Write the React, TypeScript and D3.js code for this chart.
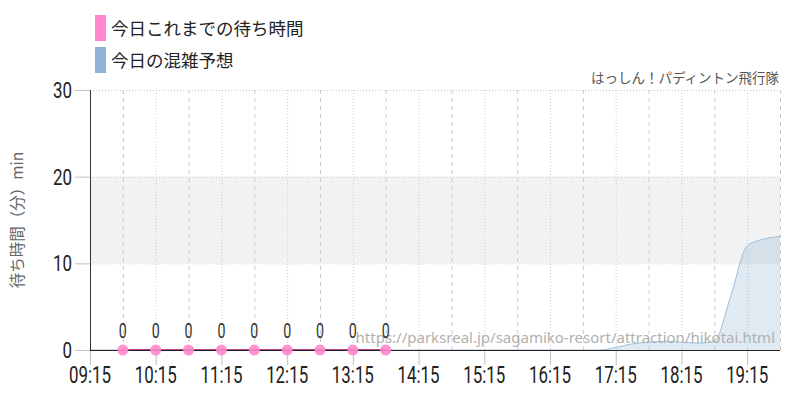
import React, { useEffect, useRef } from 'react';
import * as d3 from 'd3';

// observed waits (today so far)
const actualTimes = ['09:45', '10:15', '10:45', '11:15', '11:45', '12:15', '12:45', '13:15', '13:45'];
const actualWaits = [0, 0, 0, 0, 0, 0, 0, 0, 0];

// forecast, 15 min steps from 09:15
const forecastTimes = [
  '09:15', '09:30', '09:45', '10:00', '10:15', '10:30', '10:45', '11:00', '11:15', '11:30', '11:45',
  '12:00', '12:15', '12:30', '12:45', '13:00', '13:15', '13:30', '13:45', '14:00', '14:15', '14:30',
  '14:45', '15:00', '15:15', '15:30', '15:45', '16:00', '16:15', '16:30', '16:45', '17:00', '17:15',
  '17:30', '17:45', '18:00', '18:15', '18:30', '18:45', '19:00', '19:15', '19:30', '19:45'
];
const forecastWaits = [
  0, 0, 0, 0, 0, 0, 0, 0, 0, 0, 0,
  0, 0, 0, 0, 0, 0, 0, 0, 0, 0, 0,
  0, 0, 0, 0, 0, 0, 0, 0, 0, 0, 0.3,
  0.7, 0.9, 1.0, 0.9, 0.8, 1.0, 6.2, 12.0, 12.8, 13.1
];

const xTicks = ['09:15', '10:15', '11:15', '12:15', '13:15', '14:15', '15:15', '16:15', '17:15', '18:15', '19:15'];
const yTicks = [0, 10, 20, 30];

const legendItems = [
  { label: '今日これまでの待ち時間', color: '#ff88cc' },
  { label: '今日の混雑予想', color: '#8fb3d3' }
];

const title = 'はっしん！パディントン飛行隊';
const yLabel = '待ち時間（分）min';
const sourceUrl = 'https://parksreal.jp/sagamiko-resort/attraction/hikotai.html';

const toMin = (t: string) => {
  const [h, m] = t.split(':').map(Number);
  return h * 60 + m;
};

// numbers in the reference are tall and narrow; squeeze Roboto to match
const numFont = "'Roboto', sans-serif";
const jpFont = "'Noto Sans CJK JP', sans-serif";

const App: React.FC = () => {
  const svgRef = useRef<SVGSVGElement>(null);

  useEffect(() => {
    if (!svgRef.current) return;
    const svg = d3.select(svgRef.current);
    svg.selectAll('*').remove();

    const left = 90, right = 780, top = 90, bottom = 350;

    const x = d3.scaleLinear().domain([toMin('09:15'), toMin('19:45')]).range([left, right]);
    const y = d3.scaleLinear().domain([0, 30]).range([bottom, top]);

    // band 10-20
    svg.append('rect')
      .attr('x', left).attr('width', right - left)
      .attr('y', y(20)).attr('height', y(10) - y(20))
      .attr('fill', '#f2f2f2');

    // vertical grid every 30 min
    const gridMins = d3.range(toMin('09:45'), toMin('19:45') + 1, 30);
    svg.append('g').selectAll('line')
      .data(gridMins)
      .enter().append('line')
      .attr('x1', d => x(d) + 0.5).attr('x2', d => x(d) + 0.5)
      .attr('y1', top).attr('y2', bottom)
      .attr('stroke', '#cccccc')
      .attr('stroke-dasharray', d => ((d - toMin('09:15')) % 60 === 0 ? '1,2' : '4,4'));

    // horizontal grid
    svg.append('g').selectAll('line')
      .data(yTicks.filter(v => v > 0))
      .enter().append('line')
      .attr('x1', left).attr('x2', right)
      .attr('y1', d => y(d) + 0.5).attr('y2', d => y(d) + 0.5)
      .attr('stroke', '#c8c8c8')
      .attr('stroke-dasharray', '1,2');

    // y ticks
    svg.append('g').selectAll('line')
      .data(yTicks)
      .enter().append('line')
      .attr('x1', 75).attr('x2', left)
      .attr('y1', d => y(d) + 0.5).attr('y2', d => y(d) + 0.5)
      .attr('stroke', '#c0c0c0');
    svg.append('g').selectAll('text')
      .data(yTicks)
      .enter().append('text')
      .attr('x', 72).attr('y', d => y(d) + 8)
      .attr('text-anchor', 'end')
      .attr('textLength', d => String(d).length * 9.5)
      .attr('lengthAdjust', 'spacingAndGlyphs')
      .style('font-family', numFont)
      .style('font-size', '22px')
      .style('fill', '#222')
      .text(d => d);

    // x ticks
    svg.append('g').selectAll('line')
      .data(xTicks)
      .enter().append('line')
      .attr('x1', d => x(toMin(d)) + 0.5).attr('x2', d => x(toMin(d)) + 0.5)
      .attr('y1', bottom).attr('y2', bottom + 15)
      .attr('stroke', '#c0c0c0');
    svg.append('g').selectAll('text')
      .data(xTicks)
      .enter().append('text')
      .attr('x', d => x(toMin(d)) - 21)
      .attr('y', 383)
      .attr('textLength', 42)
      .attr('lengthAdjust', 'spacingAndGlyphs')
      .style('font-family', numFont)
      .style('font-size', '24px')
      .style('fill', '#222')
      .text(d => d);

    // forecast area
    const fData = forecastTimes.map((t, i) => ({ t: toMin(t), v: forecastWaits[i] }));
    svg.append('path')
      .datum(fData)
      .attr('d', d3.area<{ t: number; v: number }>()
        .x(d => x(d.t)).y0(bottom).y1(d => y(d.v))
        .curve(d3.curveMonotoneX))
      .attr('fill', '#8fb3d3')
      .attr('fill-opacity', 0.28);
    svg.append('path')
      .datum(fData)
      .attr('d', d3.line<{ t: number; v: number }>()
        .x(d => x(d.t)).y(d => y(d.v))
        .curve(d3.curveMonotoneX))
      .attr('fill', 'none')
      .attr('stroke', '#9dbdd8')
      .attr('stroke-width', 1);

    // watermark
    svg.append('text')
      .attr('x', 775).attr('y', 343)
      .attr('text-anchor', 'end')
      .style('font-family', "'Noto Sans', sans-serif")
      .style('font-size', '15px')
      .style('fill', '#b0b0b0')
      .text(sourceUrl);

    // actual line + points
    const aData = actualTimes.map((t, i) => ({ t: toMin(t), v: actualWaits[i] }));
    svg.append('path')
      .datum(aData)
      .attr('d', d3.line<{ t: number; v: number }>().x(d => x(d.t)).y(d => y(d.v)))
      .attr('fill', 'none')
      .attr('stroke', '#c0408a')
      .attr('stroke-width', 2);

    // axes lines
    svg.append('line')
      .attr('x1', left + 0.5).attr('x2', left + 0.5)
      .attr('y1', top).attr('y2', bottom)
      .attr('stroke', '#333');
    svg.append('line')
      .attr('x1', left).attr('x2', right)
      .attr('y1', bottom + 0.5).attr('y2', bottom + 0.5)
      .attr('stroke', '#222');

    svg.append('g').selectAll('circle')
      .data(aData)
      .enter().append('circle')
      .attr('cx', d => x(d.t)).attr('cy', d => y(d.v))
      .attr('r', 5.5)
      .attr('fill', '#ff88cc')
      .attr('fill-opacity', 0.9);

    svg.append('g').selectAll('text')
      .data(aData)
      .enter().append('text')
      .attr('x', d => x(d.t) - 4).attr('y', d => y(d.v) - 12)
      .attr('textLength', 8)
      .attr('lengthAdjust', 'spacingAndGlyphs')
      .style('font-family', numFont)
      .style('font-size', '21px')
      .style('fill', '#333')
      .text(d => d.v);

    // legend
    const lg = svg.append('g');
    legendItems.forEach((item, i) => {
      lg.append('rect')
        .attr('x', 95).attr('y', 15 + i * 32)
        .attr('width', 11).attr('height', 26)
        .attr('fill', item.color);
      lg.append('text')
        .attr('x', 111).attr('y', 35 + i * 32)
        .style('font-family', jpFont)
        .style('font-size', '17.5px')
        .style('fill', '#222')
        .text(item.label);
    });

    // title
    svg.append('text')
      .attr('x', 779).attr('y', 83)
      .attr('text-anchor', 'end')
      .style('font-family', jpFont)
      .style('font-size', '13.5px')
      .style('fill', '#555')
      .text(title);

    // y label
    svg.append('text')
      .attr('transform', `translate(23, ${(top + bottom) / 2}) rotate(-90)`)
      .attr('text-anchor', 'middle')
      .style('font-family', jpFont)
      .style('font-size', '15.5px')
      .style('fill', '#666')
      .text(yLabel);
  }, []);

  return (
    <svg ref={svgRef} width={800} height={400}
      style={{ position: 'absolute', left: 0, top: 0, background: 'white' }} />
  );
};

export default App;
